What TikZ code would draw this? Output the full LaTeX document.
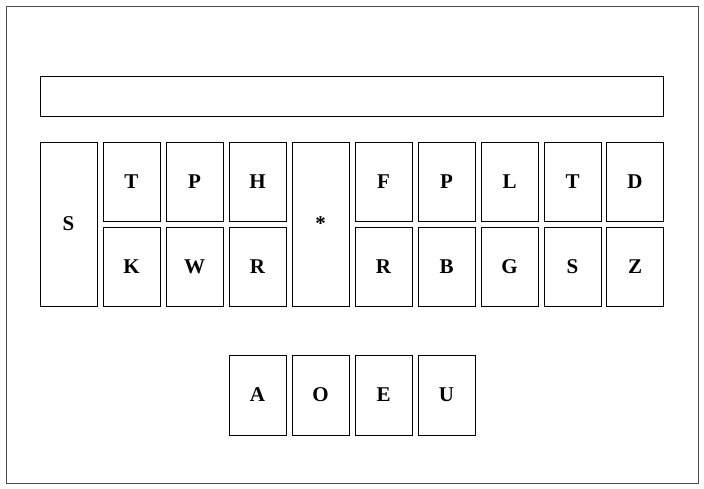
\documentclass[tikz,border=0pt]{standalone}
\usepackage{fontspec}
\setmainfont{Liberation Serif}

\begin{document}
\begin{tikzpicture}[
  x=1pt, y=-1pt,
  key/.style={rectangle, draw, line width=1pt, inner sep=0pt, minimum width=57pt, minimum height=79pt, font=\fontsize{21}{24}\selectfont\bfseries},
  tallkey/.style={key, minimum height=164pt},
  frame/.style={rectangle, draw=black!70, line width=1pt, inner sep=0pt}
]
\useasboundingbox (0,0) rectangle (704,488);

\node[frame, minimum width=692pt, minimum height=477pt] (board) at (352,244.5) {};
\node[rectangle, draw, line width=1pt, minimum width=623pt, minimum height=40pt] (display) at (351.5,96) {};

\node[tallkey] (s) at (68.5,224) {S};
\node[key] (t) at (131.5,181.5) {T};
\node[key] (p) at (194.5,181.5) {P};
\node[key] (h) at (257.5,181.5) {H};
\node[key] (k) at (131.5,267) {K};
\node[key] (w) at (194.5,267) {W};
\node[key] (r) at (257.5,267) {R};

\node[tallkey] (star) at (320.5,224) {*};

\node[key] (f) at (383.5,181.5) {F};
\node[key] (rp) at (446.5,181.5) {P};
\node[key] (l) at (509.5,181.5) {L};
\node[key] (rt) at (572.5,181.5) {T};
\node[key] (d) at (635,181.5) {D};
\node[key] (rr) at (383.5,267) {R};
\node[key] (b) at (446.5,267) {B};
\node[key] (g) at (509.5,267) {G};
\node[key] (rs) at (572.5,267) {S};
\node[key] (z) at (635,267) {Z};

\node[key, minimum height=80pt] (a) at (257.5,395) {A};
\node[key, minimum height=80pt] (o) at (320.5,395) {O};
\node[key, minimum height=80pt] (e) at (383.5,395) {E};
\node[key, minimum height=80pt] (u) at (446.5,395) {U};

\end{tikzpicture}
\end{document}
